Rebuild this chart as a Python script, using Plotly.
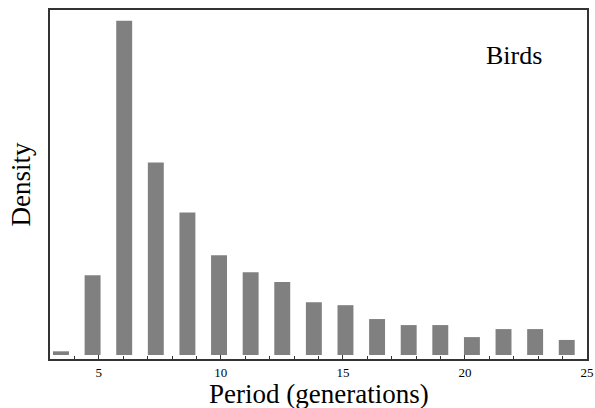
import plotly.graph_objects as go

# Histogram bin centers (period, generations) and densities
bin_centers = [3.45, 4.745, 6.04, 7.335, 8.63, 9.925, 11.22, 12.515, 13.81,
               15.105, 16.40, 17.695, 18.99, 20.285, 21.58, 22.875, 24.17]
density = [0.0022, 0.0477, 0.1999, 0.1152, 0.0853, 0.0597, 0.0495, 0.0436, 0.0316,
           0.0298, 0.0215, 0.0179, 0.0179, 0.0107, 0.0155, 0.0155, 0.0090]
x_tickvals = [5, 10, 15, 20, 25]
x_ticktext = ["5", "10", "15", "20", "25"]

serif = "Liberation Serif, Times New Roman, serif"

fig = go.Figure(go.Bar(
    x=bin_centers, y=density, width=0.653,
    marker=dict(color="#808080", line=dict(width=0)),
))

fig.update_layout(
    width=595, height=408,
    margin=dict(l=50, r=7.5, t=9.5, b=49),
    plot_bgcolor="white", paper_bgcolor="white",
    showlegend=False,
    font=dict(family=serif, color="black"),
    annotations=[
        dict(x=22, y=0.179, xref="x", yref="y", text="Birds",
             showarrow=False, font=dict(size=26, family=serif, color="black")),
        dict(x=0.5, y=-0.101, xref="paper", yref="paper", text="Period (generations)",
             xanchor="center", yanchor="middle", showarrow=False,
             font=dict(size=27, family=serif, color="black")),
    ],
)
fig.update_xaxes(
    range=[3, 25], tickvals=x_tickvals, ticktext=x_ticktext,
    ticks="inside", ticklen=4, tickcolor="#333", tickwidth=1,
    minor=dict(dtick=1, tick0=0, ticks="inside", ticklen=3, tickcolor="#333"),
    showgrid=False, zeroline=False, automargin=False,
    showline=True, linecolor="#333", linewidth=2, mirror=True,
    tickfont=dict(size=13, family=serif), ticklabelstandoff=0,
)
fig.update_yaxes(
    range=[-0.0024, 0.2064], showticklabels=False, ticks="",
    showgrid=False, zeroline=False, automargin=False,
    showline=True, linecolor="#333", linewidth=2, mirror=True,
    title=dict(text="Density", font=dict(size=27, family=serif), standoff=10),
)

fig.write_html("out.html")
